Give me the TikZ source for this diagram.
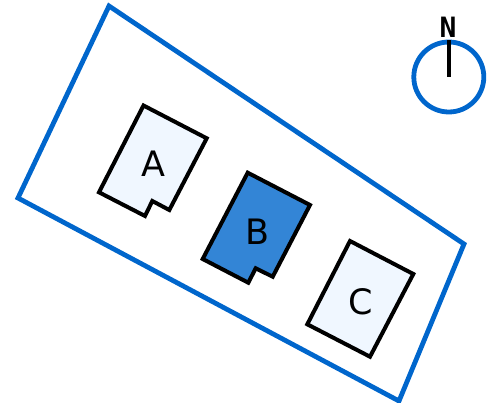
\documentclass[tikz,border=0pt]{standalone}
\usepackage{fontspec}
\setmainfont{DejaVu Sans}
\newfontfamily\compassfont{DejaVu Sans Mono}
\usepackage{tikz}
\usepackage{xcolor}
\definecolor{cSite}{RGB}{0,102,204}
\definecolor{cPale}{RGB}{240,247,255}
\definecolor{cFocus}{RGB}{51,133,214}
\tikzset{
    site/.style={draw=cSite, line width=4.8pt},
    plot/.style={draw=black, line width=4pt, fill=cPale},
    plotfocus/.style={plot, fill=cFocus},
    plotname/.style={text=black, inner sep=0pt, font=\fontsize{35}{38}\selectfont},
    compass/.style={draw=cSite, line width=4.8pt},
    needle/.style={draw=black, line width=4pt},
}
\begin{document}
\begin{tikzpicture}[x=1pt, y=-1pt]
    \useasboundingbox (0,0) rectangle (495,403);
    % site boundary
    \draw[site] (109,6) -- (464,244) -- (399,401) -- (18,198) -- cycle;
    % plots
    \draw[plot] (143.5,105.5) -- (206.7,138.3) -- (169.3,210) -- (152.3,201) -- (145,216) -- (99,192.3) -- cycle;
    \draw[plotfocus] (247.7,172.7) -- (310,205) -- (272.7,276.7) -- (255.7,268.3) -- (248.3,282.7) -- (202.7,259) -- cycle;
    \draw[plot] (350,241) -- (413.3,274) -- (370,356.7) -- (307.3,324.3) -- cycle;
    \node[plotname] (nameA) at (153,164) {A};
    \node[plotname] (nameB) at (257.5,232) {B};
    \node[plotname] (nameC) at (360.5,302) {C};
    % north mark
    \node[circle, compass, minimum size=70pt, inner sep=0pt] (dial) at (448.8,77) {};
    \coordinate (hub) at (dial.center);
    \draw[needle] (hub) -- (dial.north);
    \node[inner sep=0pt, font=\compassfont\bfseries\fontsize{28}{30}\selectfont] (north) at (448,27.5) {N};
\end{tikzpicture}
\end{document}
